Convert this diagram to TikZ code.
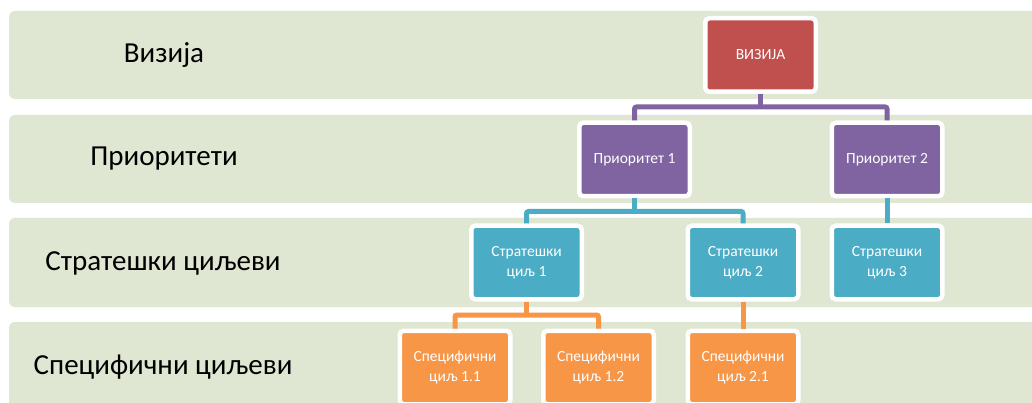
\documentclass[tikz,border=0pt]{standalone}
\usepackage{fontspec}
\setmainfont{Carlito}
\usetikzlibrary{calc}
\definecolor{bandgreen}{HTML}{DFE6D2}
\definecolor{cred}{HTML}{C0504D}
\definecolor{cpurple}{HTML}{8064A2}
\definecolor{cblue}{HTML}{4BACC6}
\definecolor{corange}{HTML}{F79646}
\tikzset{
  band/.style={fill=bandgreen, draw=none, rounded corners=6pt},
  rowlabel/.style={font=\fontsize{29}{34}\selectfont, text=black, anchor=center},
  orgbox/.style={draw=white, line width=4.5pt, rounded corners=4pt, minimum width=110.5pt, minimum height=73.5pt, inner sep=0pt, align=center, text=white, font=\fontsize{15.5}{19.5}\selectfont},
  conn/.style={line width=5pt, rounded corners=2pt}
}
\begin{document}
\begin{tikzpicture}[x=1pt,y=-1pt]
\useasboundingbox (0,0) rectangle (1032,403);
\clip (0,0) rectangle (1032,403);
\fill[white] (0,0) rectangle (1032,403);
% bands
\path[band] (9,11) rectangle (1045,99);
\path[band] (9,115) rectangle (1045,203);
\path[band] (9,218) rectangle (1045,307);
\path[band] (9,322) rectangle (1045,420);
% row labels
\node[rowlabel] (l1) at (164,55) {Визија};
\node[rowlabel] (l2) at (164,159) {Приоритети};
\node[rowlabel] (l3) at (163,263) {Стратешки циљеви};
\node[rowlabel] (l4) at (163,367) {Специфични циљеви};
% boxes
\node[orgbox, fill=cred] (viz) at (760.5,55) {ВИЗИЈА};
\node[orgbox, fill=cpurple] (p1) at (634.5,159.5) {Приоритет 1};
\node[orgbox, fill=cpurple] (p2) at (887,159.5) {Приоритет 2};
\node[orgbox, fill=cblue] (s1) at (526.5,262.5) {Стратешки\\циљ 1};
\node[orgbox, fill=cblue] (s2) at (743,262.5) {Стратешки\\циљ 2};
\node[orgbox, fill=cblue] (s3) at (887,262.5) {Стратешки\\циљ 3};
\node[orgbox, fill=corange] (c11) at (455,367.5) {Специфични\\циљ 1.1};
\node[orgbox, fill=corange] (c12) at (598.5,367.5) {Специфични\\циљ 1.2};
\node[orgbox, fill=corange] (c21) at (743,367.5) {Специфични\\циљ 2.1};
% connectors
\coordinate (j1) at (760.5,107);
\coordinate (j2) at (634.5,211.5);
\coordinate (j3) at (526.5,315);
\draw[conn, cpurple] (viz.south) -- (j1);
\draw[conn, cpurple] (p1.north) -- (p1.north |- j1) -- (p2.north |- j1) -- (p2.north);
\draw[conn, cblue] (p1.south) -- (j2);
\draw[conn, cblue] (s1.north) -- (s1.north |- j2) -- (s2.north |- j2) -- (s2.north);
\draw[conn, cblue] (p2.south) -- (s3.north);
\draw[conn, corange] (s1.south) -- (j3);
\draw[conn, corange] (c11.north) -- (c11.north |- j3) -- (c12.north |- j3) -- (c12.north);
\draw[conn, corange] (s2.south) -- (c21.north);
\end{tikzpicture}
\end{document}
